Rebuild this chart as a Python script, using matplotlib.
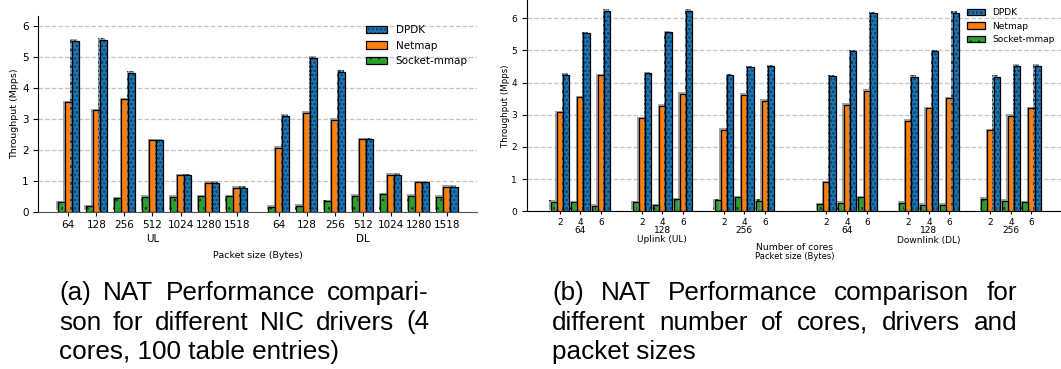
import numpy as np
import matplotlib
matplotlib.use('Agg')
import matplotlib.pyplot as plt
from matplotlib import patheffects
from matplotlib.patches import Patch

W, H = 1061, 369
DPI = 100

drivers = ['DPDK', 'Netmap', 'Socket-mmap']
colors = {'DPDK': '#1f77b4', 'Netmap': '#ff7f0e', 'Socket-mmap': '#2ca02c'}
hatches = {'DPDK': 'oooo', 'Netmap': '', 'Socket-mmap': '..'}
hatch_colors = {'DPDK': '#0c4a7c', 'Netmap': '#ff7f0e', 'Socket-mmap': '#0f300f'}

# (a) 4 cores, 100 table entries
sizes_a = ['64', '128', '256', '512', '1024', '1280', '1518']
a_ul_dpdk = [5.52, 5.55, 4.48, 2.31, 1.17, 0.94, 0.78]
a_ul_netmap = [3.53, 3.28, 3.62, 2.31, 1.17, 0.94, 0.78]
a_ul_socket = [0.30, 0.18, 0.43, 0.49, 0.48, 0.50, 0.50]
a_dl_dpdk = [3.10, 4.97, 4.52, 2.33, 1.19, 0.95, 0.80]
a_dl_netmap = [2.06, 3.19, 2.97, 2.33, 1.19, 0.95, 0.80]
a_dl_socket = [0.16, 0.19, 0.33, 0.52, 0.56, 0.52, 0.49]

# (b) cores x packet size
sizes_b = ['64', '128', '256']
cores = ['2', '4', '6']
b_ul_dpdk = [4.25, 5.53, 6.24, 4.29, 5.56, 6.24, 4.24, 4.48, 4.52]
b_ul_netmap = [3.09, 3.54, 4.24, 2.90, 3.28, 3.66, 2.54, 3.62, 3.44]
b_ul_socket = [0.30, 0.29, 0.18, 0.29, 0.19, 0.37, 0.34, 0.44, 0.33]
b_dl_dpdk = [4.21, 4.97, 6.16, 4.19, 4.97, 6.18, 4.19, 4.53, 4.53]
b_dl_netmap = [0.91, 3.31, 3.75, 2.82, 3.20, 3.51, 2.52, 2.97, 3.21]
b_dl_socket = [0.22, 0.27, 0.44, 0.27, 0.20, 0.21, 0.39, 0.33, 0.29]

caption_a = [['(a)', 'NAT', 'Performance', 'compari-'],
             ['son', 'for', 'different', 'NIC', 'drivers', '(4'],
             ['cores,', '100', 'table', 'entries)']]
caption_b = [['(b)', 'NAT', 'Performance', 'comparison', 'for'],
             ['different', 'number', 'of', 'cores,', 'drivers', 'and'],
             ['packet', 'sizes']]

plt.rcParams['hatch.linewidth'] = 0.6


def px(x0, y0, x1, y1):
    # pixel box (top-left origin) -> figure fraction rect
    return [x0 / W, 1 - y1 / H, (x1 - x0) / W, (y1 - y0) / H]


def draw_bars(ax, x, vals, drv, width):
    shadow = [patheffects.SimplePatchShadow(offset=(-1, 1), shadow_rgbFace='#8c8c8c', alpha=0.8),
              patheffects.Normal()]
    ax.bar(x, vals, width, color=colors[drv], edgecolor=hatch_colors[drv],
           hatch=hatches[drv], linewidth=0, path_effects=shadow, zorder=2)
    ax.bar(x, vals, width, fill=False, edgecolor='black', linewidth=0.9, zorder=3)


def style_axes(ax, labelsize):
    ax.spines['top'].set_visible(False)
    ax.spines['right'].set_visible(False)
    ax.set_axisbelow(True)
    ax.yaxis.grid(True, linestyle='--', color='#c4c4c4', linewidth=0.9)
    ax.set_yticks(range(7))
    ax.tick_params(labelsize=labelsize)


def legend(ax, fontsize):
    handles = [(Patch(facecolor=colors[d], edgecolor=hatch_colors[d], hatch=hatches[d], linewidth=0),
                Patch(fill=False, edgecolor='black', linewidth=0.9)) for d in drivers]
    ax.legend(handles, drivers, loc='upper right', frameon=False, fontsize=fontsize)


def label_below(ax, x, text, dy_px, fontsize):
    ax.annotate(text, xy=(x, 0), xycoords=ax.get_xaxis_transform(),
                xytext=(0, -dy_px * 72 / DPI), textcoords='offset points',
                ha='center', va='center', fontsize=fontsize)


fig = plt.figure(figsize=(W / DPI, H / DPI), dpi=DPI)

# ---- chart (a)
ax1 = fig.add_axes(px(38.3, 16, 477, 211.7))
w1 = 0.25
xa_ul = np.arange(len(sizes_a))
xa_dl = np.arange(len(sizes_a)) + 7.5
for xs, d, n, s in [(xa_ul, a_ul_dpdk, a_ul_netmap, a_ul_socket),
                    (xa_dl, a_dl_dpdk, a_dl_netmap, a_dl_socket)]:
    draw_bars(ax1, xs - w1, s, 'Socket-mmap', w1)
    draw_bars(ax1, xs, n, 'Netmap', w1)
    draw_bars(ax1, xs + w1, d, 'DPDK', w1)
style_axes(ax1, 7.5)
ax1.spines['bottom'].set_color('#555555')
ax1.set_xticks(np.concatenate([xa_ul, xa_dl]))
ax1.set_xticklabels(sizes_a + sizes_a)
ax1.tick_params(axis='x', length=3, pad=3)
ax1.set_xlim(-1.07, 14.57)
ax1.set_ylim(0, 6.31)
legend(ax1, 7.5)
label_below(ax1, xa_ul.mean(), 'UL', 27.3, 7.5)
label_below(ax1, xa_dl.mean(), 'DL', 27.3, 7.5)
fig.text(257.6 / W, 1 - 255 / H, 'Packet size (Bytes)', ha='center', va='center', fontsize=6.8)
fig.text(15 / W, 1 - 114 / H, 'Throughput (Mpps)', rotation=90, ha='center', va='center', fontsize=6.8)

# ---- chart (b)
ax2 = fig.add_axes(px(526.7, 0, 1063, 211.3))
w2 = 0.3
core_off = np.arange(len(cores))
xb_ul = np.concatenate([4 * i + core_off for i in range(len(sizes_b))]).astype(float)
xb_dl = xb_ul + 13
for xs, d, n, s in [(xb_ul, b_ul_dpdk, b_ul_netmap, b_ul_socket),
                    (xb_dl, b_dl_dpdk, b_dl_netmap, b_dl_socket)]:
    draw_bars(ax2, xs - w2, s, 'Socket-mmap', w2)
    draw_bars(ax2, xs, n, 'Netmap', w2)
    draw_bars(ax2, xs + w2, d, 'DPDK', w2)
style_axes(ax2, 6.5)
ax2.set_xticks(np.concatenate([xb_ul, xb_dl]))
ax2.set_xticklabels(cores * 6)
ax2.tick_params(axis='x', length=2.5, pad=2.5)
ax2.set_xlim(-1.62, 24.54)
ax2.set_ylim(0, 6.57)
legend(ax2, 6.5)
for base in (0, 13):
    for i, s in enumerate(sizes_b):
        label_below(ax2, base + 4 * i + 1, s, 19.4, 6.5)
label_below(ax2, 5, 'Uplink (UL)', 28.7, 6.5)
label_below(ax2, 18, 'Downlink (DL)', 28.7, 6.5)
fig.text(795 / W, 1 - 247.3 / H, 'Number of cores', ha='center', va='center', fontsize=6.7)
fig.text(795 / W, 1 - 256.7 / H, 'Packet size (Bytes)', ha='center', va='center', fontsize=6.0)
fig.text(505 / W, 1 - 106 / H, 'Throughput (Mpps)', rotation=90, ha='center', va='center', fontsize=6.2)

# ---- captions (justified like the paper)
renderer = fig.canvas.get_renderer()


def caption(lines, x0, x1, baselines):
    for k, words in enumerate(lines):
        y = (H - baselines[k]) / H
        last = k == len(lines) - 1
        if last:
            fig.text(x0 / W, y, ' '.join(words), fontsize=18.8, family='Liberation Sans', va='baseline')
            continue
        texts = [fig.text(0, y, wd, fontsize=18.8, family='Liberation Sans', va='baseline') for wd in words]
        widths = [t.get_window_extent(renderer).width for t in texts]
        gap = (x1 - x0 - sum(widths)) / (len(words) - 1)
        x = x0
        for t, wd in zip(texts, widths):
            t.set_x(x / W)
            x += wd + gap


caption(caption_a, 59, 429, [300, 329.5, 359])
caption(caption_b, 552, 1017, [300, 329.5, 359])

fig.savefig('out.png', dpi=DPI)
